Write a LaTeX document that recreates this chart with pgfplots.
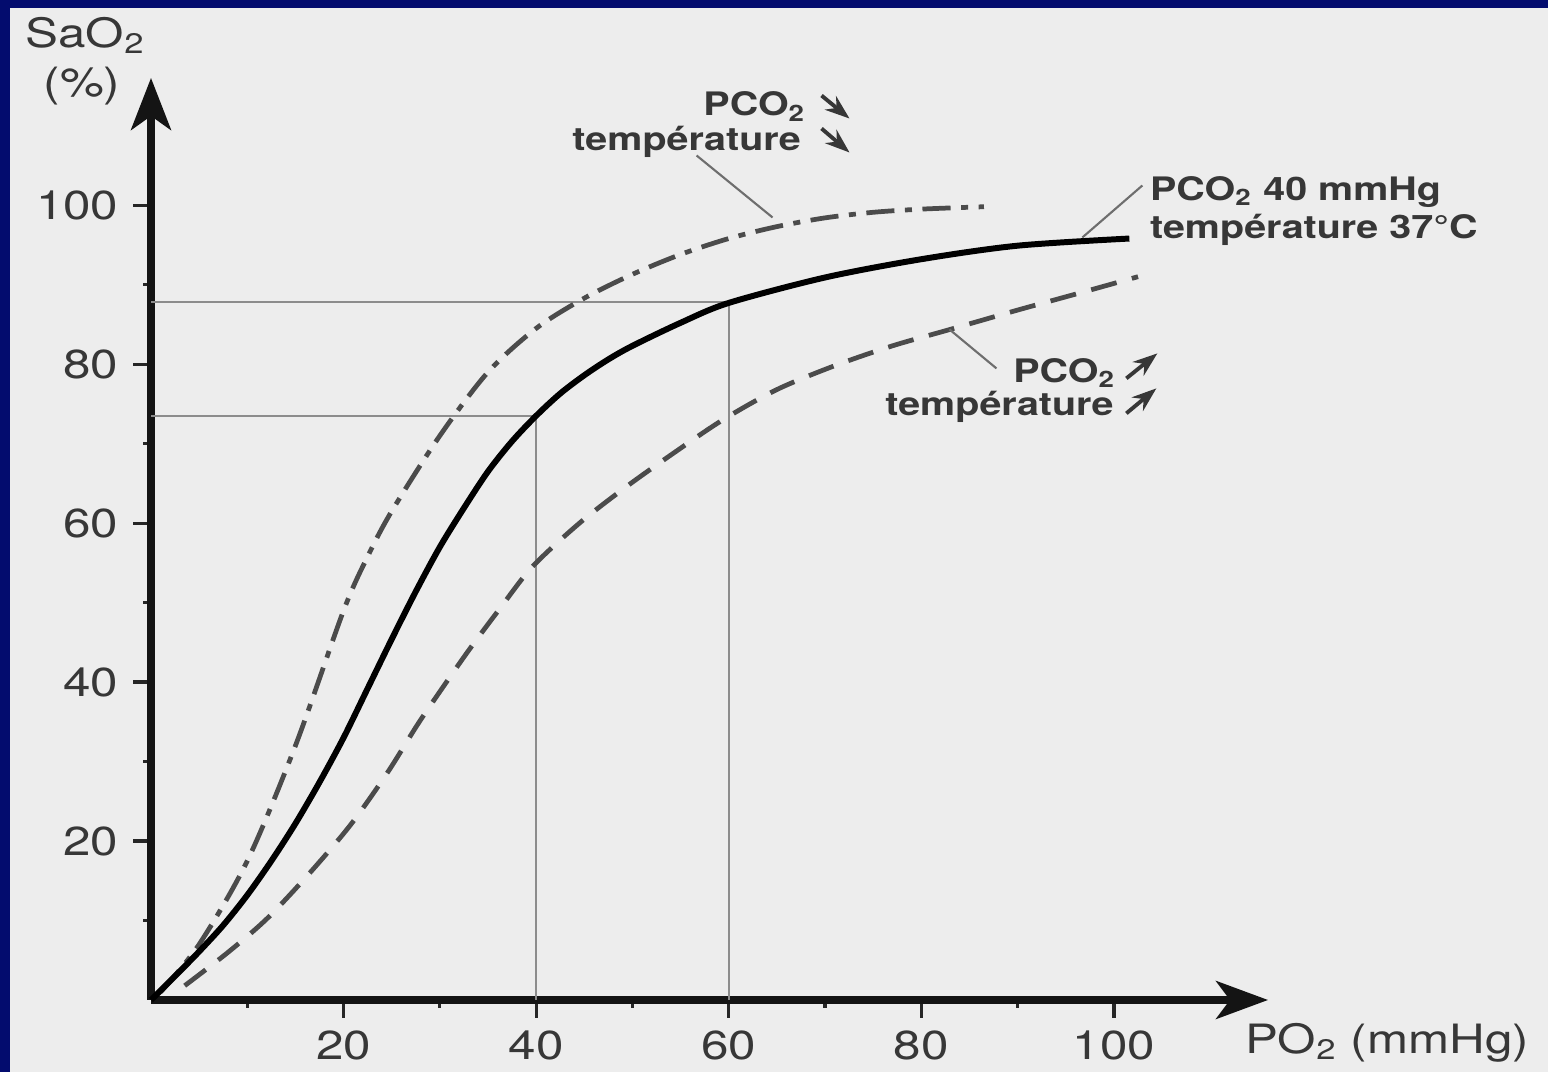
\documentclass[border=0pt]{standalone}
\usepackage{fontspec}
\setmainfont[FakeStretch=1.22]{TeX Gyre Heros}
\usepackage{pgfplots}
\pgfplotsset{compat=1.18}
\usetikzlibrary{arrows.meta}
\definecolor{navyb}{RGB}{3,12,110}
\definecolor{bg}{RGB}{237,237,237}
\definecolor{txt}{RGB}{55,55,55}
\definecolor{crv}{RGB}{75,75,75}
\definecolor{refl}{RGB}{140,140,140}
\definecolor{lead}{RGB}{110,110,110}
\newcommand\annfont{\fontsize{9.2}{11}\selectfont\bfseries}
\newcommand\lblfont{\fontsize{11.5}{13}\selectfont}
\begin{document}
\begin{tikzpicture}
\path[use as bounding box] (0,0) rectangle (15.48,10.72);
\fill[navyb] (0,0) rectangle (15.48,10.72);
\fill[bg] (0.10,0) rectangle (15.48,10.64);
\begin{axis}[
  at={(1.51cm,0.72cm)}, anchor=south west,
  scale only axis, width=11.17cm, height=9.22cm,
  xmin=0, xmax=116, ymin=0, ymax=116,
  axis x line=bottom, axis y line=left,
  axis line style={line width=2pt, black!92},
  every outer x axis line/.append style={-{Stealth[length=0.52cm,width=0.38cm,inset=0.14cm]}},
  every outer y axis line/.append style={-{Stealth[length=0.52cm,width=0.40cm,inset=0.14cm]}},
  xtick={20,40,60,80,100}, ytick={20,40,60,80,100},
  minor xtick={10,30,50,70,90}, minor ytick={10,30,50,70,90},
  tick align=outside,
  major tick length=0.18cm, minor tick length=0.08cm,
  tick style={line width=0.9pt, black!85},
  tick label style={font=\lblfont, text=txt},
  /pgf/number format/assume math mode=true,
  xticklabel style={anchor=north, inner sep=0pt, yshift=-0.12cm},
  yticklabel style={anchor=east, inner sep=0pt, xshift=-0.14cm},
  clip=false,
]
% reference lines
\addplot[refl, line width=0.6pt] coordinates {(0,87.8) (60,87.8) (60,0)};
\addplot[refl, line width=0.6pt] coordinates {(0,73.5) (40,73.5) (40,0)};
% left-shifted curve (PCO2 down, temperature down)
\addplot[crv, line width=1.35pt, smooth, dash pattern=on 8pt off 3pt on 2pt off 3pt] coordinates {
(1,1) (5,7) (10,17.5) (15,32) (20,49) (22.5,55.8) (25,61.5) (30,71) (35,79)
(40,84.5) (45,88.3) (50,91.3) (55,93.8) (60,95.8) (65,97.3) (70,98.4)
(75,99.1) (80,99.5) (86.5,99.8)};
% normal curve
\addplot[black, line width=1.7pt, smooth] coordinates {
(0,0) (2.5,3) (5,6.1) (7.5,9.4) (10,13.2) (12.5,17.5) (15,22.2) (17.5,27.4)
(20,33) (22.5,39.2) (25,45.4) (27.5,51.4) (30,57) (32.5,61.9) (35,66.5)
(37.5,70.3) (40,73.5) (42.5,76.3) (45,78.6) (47.5,80.6) (50,82.3) (55,85.2)
(60,87.7) (70,90.9) (80,93.2) (90,94.9) (101.6,95.8)};
% right-shifted curve (PCO2 up, temperature up)
\addplot[crv, line width=1.35pt, smooth, dash pattern=on 7.5pt off 4.5pt] coordinates {
(3.5,1.8) (8,6) (12.1,10.3) (16.5,16) (20.7,22) (24.5,28.5) (27.6,34.5)
(30,38.8) (33,44) (36.2,49.2) (39.6,54.5) (44.5,60) (49.5,64.7) (54.5,69)
(59.4,73) (65,76.8) (71,79.8) (77,82.3) (82.8,84.3) (90,86.8) (96,88.8)
(102.5,91)};
\end{axis}
\begin{scope}[x=0.01cm, y=0.01cm]
% axis labels
\node[anchor=base west, inner sep=0, font=\lblfont, text=txt] at (25,1025) {SaO\textsubscript{2}};
\node[anchor=center, inner sep=0, font=\lblfont, text=txt] at (82,986) {(\%)};
\node[anchor=base west, inner sep=0, font=\lblfont, text=txt] at (1245,19) {PO\textsubscript{2} (mmHg)};
% top annotation
\node[anchor=base east, inner sep=0, font=\annfont, text=txt] at (807,957) {PCO\textsubscript{2}};
\node[anchor=base east, inner sep=0, font=\annfont, text=txt] at (802,922) {température};
\draw[txt, line width=1.1pt, -{Stealth[length=7pt,width=5pt]}] (822,977) -- (850,954);
\draw[txt, line width=1.1pt, -{Stealth[length=7pt,width=5pt]}] (822,944) -- (850,920);
\draw[lead, line width=0.6pt] (697,917) -- (773,855);
% right annotation
\node[anchor=base west, inner sep=0, font=\annfont, text=txt] at (1150,872) {PCO\textsubscript{2} 40 mmHg};
\node[anchor=base west, inner sep=0, font=\annfont, text=txt] at (1150,834) {température 37°C};
\draw[lead, line width=0.6pt] (1143,887) -- (1083,835);
% lower annotation
\node[anchor=base east, inner sep=0, font=\annfont, text=txt] at (1117,690) {PCO\textsubscript{2}};
\node[anchor=base east, inner sep=0, font=\annfont, text=txt] at (1115,657) {température};
\draw[txt, line width=1.1pt, -{Stealth[length=7pt,width=5pt]}] (1127,694) -- (1158,719);
\draw[txt, line width=1.1pt, -{Stealth[length=7pt,width=5pt]}] (1127,659) -- (1157,684);
\draw[lead, line width=0.6pt] (950,743) -- (997,704);
\end{scope}
\end{tikzpicture}
\end{document}
